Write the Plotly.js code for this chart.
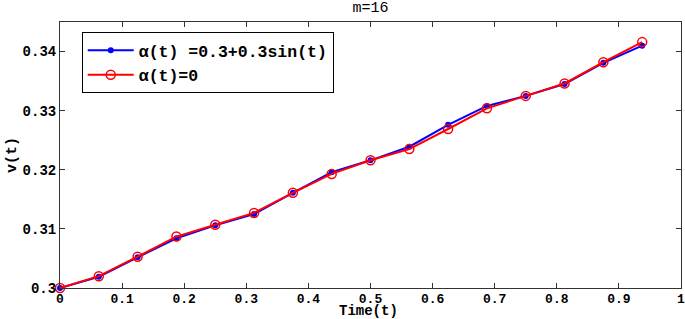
<!DOCTYPE html>
<html>
<head>
<meta charset="utf-8">
<script src="https://cdn.plot.ly/plotly-3.0.1.min.js"></script>
<style>html,body{margin:0;padding:0;background:#fff;}#chart{width:685px;height:319px;}</style>
</head>
<body>
<div id="chart"></div>
<script>
const timeValues = [0, 0.0625, 0.125, 0.1875, 0.25, 0.3125, 0.375, 0.4375, 0.5, 0.5625, 0.625, 0.6875, 0.75, 0.8125, 0.875, 0.9375];
const vAlphaSin = [0.3000, 0.3019, 0.3052, 0.3084, 0.3106, 0.3125, 0.3161, 0.3196, 0.3216, 0.3239, 0.3276, 0.3308, 0.3325, 0.3345, 0.3381, 0.3410];
const vAlphaZero = [0.3000, 0.3020, 0.3053, 0.3087, 0.3107, 0.3127, 0.3161, 0.3193, 0.3216, 0.3235, 0.3269, 0.3304, 0.3325, 0.3346, 0.3382, 0.3416];
const seriesNames = ['\u03b1(t) =0.3+0.3sin(t)', '\u03b1(t)=0'];
const xTickVals = [0, 0.1, 0.2, 0.3, 0.4, 0.5, 0.6, 0.7, 0.8, 0.9, 1];
const xTickText = ['0', '0.1', '0.2', '0.3', '0.4', '0.5', '0.6', '0.7', '0.8', '0.9', '1'];
const yTickVals = [0.30, 0.31, 0.32, 0.33, 0.34];
const yTickText = ['0.3', '0.31', '0.32', '0.33', '0.34'];
const xTitle = 'Time(t)';
const yTitle = 'v(t)';
const chartTitle = 'm=16';

const mono = "'Liberation Mono', 'DejaVu Sans Mono', 'Courier New', monospace";
const traces = [
  {
    x: timeValues, y: vAlphaSin, name: seriesNames[0], type: 'scatter', mode: 'lines+markers',
    line: {color: '#0000ff', width: 2},
    marker: {color: '#0000ff', size: 6, symbol: 'circle'},
    cliponaxis: false
  },
  {
    x: timeValues, y: vAlphaZero, name: seriesNames[1], type: 'scatter', mode: 'lines+markers',
    line: {color: '#ff0000', width: 2},
    marker: {color: '#ff0000', size: 9, symbol: 'circle-open', line: {color: '#ff0000', width: 1.5}},
    cliponaxis: false
  }
];

const axisCommon = {
  showgrid: false, zeroline: false, showline: true, linecolor: '#333', linewidth: 1,
  mirror: 'ticks', ticks: 'inside', ticklen: 5, tickcolor: '#333',
  ticklabeloverflow: 'allow',
  tickfont: {family: mono, size: 14, weight: 'bold', color: '#000'}
};

const layout = {
  width: 685, height: 319,
  margin: {l: 60, r: 4, t: 22, b: 31},
  paper_bgcolor: '#fff', plot_bgcolor: '#fff',
  font: {family: mono},
  title: {text: chartTitle, font: {family: mono, size: 15, color: '#000'}, x: 0.541, xanchor: 'center', y: 0.995, yanchor: 'top'},
  xaxis: Object.assign({}, axisCommon, {
    range: [0, 1.00001], tickmode: 'array', tickvals: xTickVals, ticktext: xTickText,
    ticklabelstandoff: -2,
    tickfont: {family: mono, size: 13, weight: 'bold', color: '#000'}
  }),
  yaxis: Object.assign({}, axisCommon, {
    range: [0.3, 0.345], tickmode: 'array', tickvals: yTickVals, ticktext: yTickText,
    title: {text: yTitle, font: {family: mono, size: 15, weight: 'bold', color: '#000'}, standoff: 2}
  }),
  annotations: [{
    text: xTitle, xref: 'paper', yref: 'paper', x: 0.496, y: 0, xanchor: 'center', yanchor: 'bottom',
    yshift: -32, showarrow: false, borderpad: 0,
    font: {family: mono, size: 14, weight: 'bold', color: '#000'}
  }],
  showlegend: true,
  legend: {
    x: 0.035, y: 0.962, xanchor: 'left', yanchor: 'top',
    bgcolor: '#fff', bordercolor: '#000', borderwidth: 1,
    font: {family: mono, size: 16.5, weight: 'bold', color: '#000'},
    itemwidth: 46, tracegroupgap: 0
  }
};

Plotly.newPlot('chart', traces, layout, {displayModeBar: false, staticPlot: true});
</script>
</body>
</html>
